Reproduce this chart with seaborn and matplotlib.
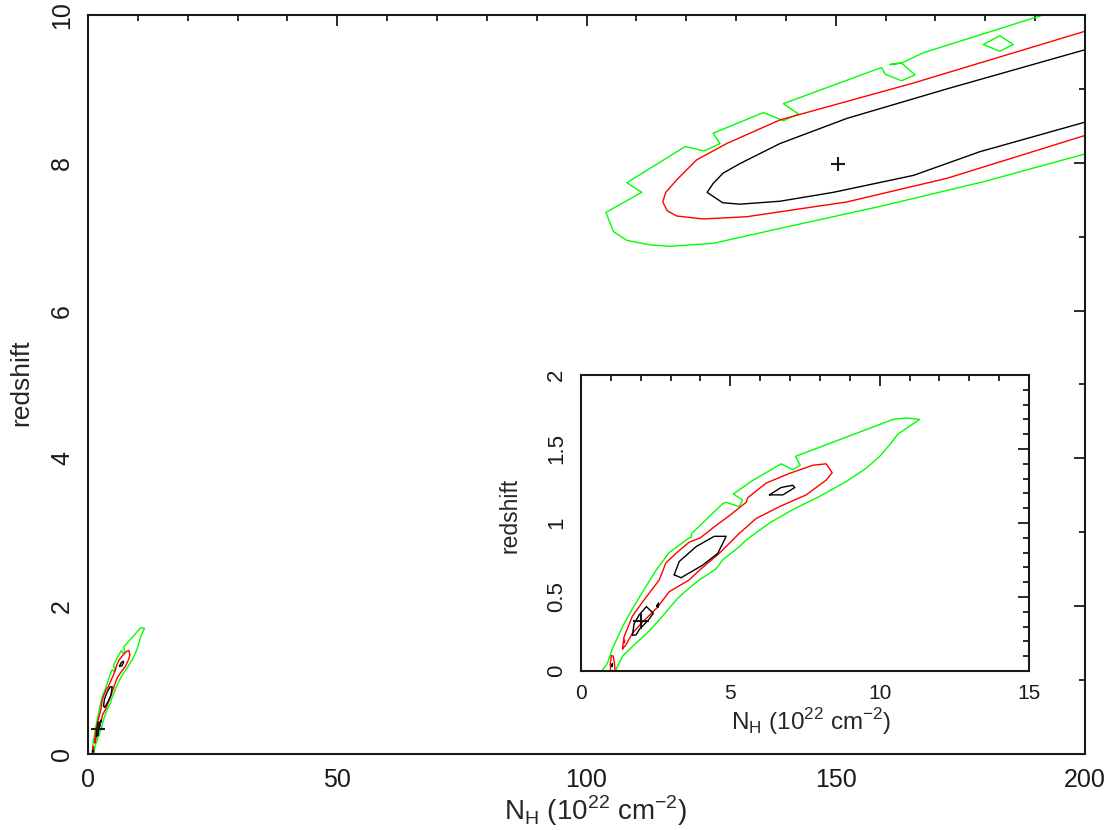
import matplotlib
matplotlib.use("Agg")
import matplotlib.pyplot as plt
from matplotlib.ticker import MultipleLocator, FuncFormatter
import seaborn as sns

# ---------------- data (N_H in 1e22 cm^-2, redshift) ----------------
# large solution (main panel, upper right)
big_green_nh = [191.6, 167.6, 163.2, 160.9, 163.2, 165.9, 163.2, 159.9, 159.2, 139.5, 142.5,
                139.5, 135.5, 125.4, 126.8, 123.6, 119.8, 108.1, 111.1, 103.9, 105.4, 108.1,
                112.7, 116.8, 125.4, 140.0, 158.9, 180.0, 200.0]
big_green_z = [10.0, 9.49, 9.35, 9.33, 9.35, 9.19, 9.11, 9.20, 9.29, 8.80, 8.66,
               8.57, 8.68, 8.40, 8.26, 8.16, 8.22, 7.73, 7.60, 7.33, 7.07, 6.95,
               6.89, 6.87, 6.91, 7.13, 7.41, 7.75, 8.12]
big_green2_nh = [179.6, 182.9, 185.6, 182.9, 179.6]
big_green2_z = [9.60, 9.72, 9.60, 9.51, 9.60]
big_red_nh = [200.0, 165.6, 138.8, 128.1, 122.1, 118.1, 115.9, 115.3, 116.2, 118.1, 123.4,
              132.1, 152.2, 172.3, 200.0]
big_red_z = [9.78, 9.08, 8.58, 8.26, 8.04, 7.77, 7.60, 7.47, 7.35, 7.28, 7.24,
             7.27, 7.47, 7.79, 8.37]
big_black_nh = [200.0, 172.3, 152.2, 138.8, 130.8, 127.4, 125.4, 124.2, 127.3, 130.8, 138.8,
                149.5, 165.6, 178.9, 200.0]
big_black_z = [9.53, 9.00, 8.60, 8.26, 7.99, 7.86, 7.72, 7.60, 7.46, 7.44, 7.48,
               7.60, 7.83, 8.15, 8.55]
big_best_nh = [150.4]
big_best_z = [7.98]

# small solution (bottom left of main panel, enlarged in the inset)
sm_green_nh = [0.69, 0.88, 1.05, 1.39, 1.72, 2.11, 2.51, 2.95, 3.29, 3.62, 3.68, 3.71, 4.74,
               4.86, 5.30, 5.41, 5.10, 5.69, 6.70, 7.09, 7.34, 7.18, 10.45, 10.90, 11.34,
               10.61, 10.34, 10.00, 9.55, 8.88, 7.99, 7.09, 6.31, 5.53, 5.30, 4.74, 4.52,
               3.96, 3.62, 3.23, 2.73, 2.28, 1.72, 1.39, 1.22, 1.16]
sm_green_z = [0.00, 0.05, 0.15, 0.30, 0.42, 0.55, 0.68, 0.80, 0.85, 0.90, 0.90, 0.93, 1.13,
              1.14, 1.11, 1.155, 1.196, 1.28, 1.40, 1.36, 1.39, 1.45, 1.70, 1.71, 1.70,
              1.60, 1.53, 1.45, 1.37, 1.28, 1.18, 1.09, 1.00, 0.885, 0.84, 0.75, 0.69,
              0.615, 0.56, 0.49, 0.37, 0.27, 0.165, 0.10, 0.03, 0.00]
sm_red_nh = [1.39, 1.44, 1.72, 2.11, 2.62, 2.84, 3.18, 3.62, 4.00, 4.50, 4.97, 5.53, 5.58,
             6.20, 6.98, 7.76, 8.21, 8.41, 8.21, 7.54, 6.64, 5.86, 5.30, 4.63, 3.96, 3.62,
             2.95, 2.56, 2.06, 1.72, 1.50, 1.39]
sm_red_z = [0.15, 0.23, 0.37, 0.48, 0.615, 0.73, 0.795, 0.87, 0.90, 0.98, 1.05, 1.14, 1.17,
            1.27, 1.335, 1.39, 1.40, 1.34, 1.29, 1.19, 1.11, 1.03, 0.93, 0.795, 0.68, 0.615,
            0.535, 0.43, 0.33, 0.255, 0.175, 0.15]
sm_red2_nh = [0.99, 0.98, 1.02, 1.08, 1.12, 1.14]
sm_red2_z = [0.00, 0.05, 0.105, 0.10, 0.05, 0.00]
sm_red3_nh = [1.43, 1.46, 1.45, 1.43]
sm_red3_z = [0.19, 0.21, 0.19, 0.19]
sm_black1_nh = [1.72, 1.78, 1.95, 2.19, 2.42, 2.26, 1.95, 1.84, 1.72]
sm_black1_z = [0.243, 0.32, 0.38, 0.435, 0.39, 0.345, 0.28, 0.243, 0.243]
sm_black2_nh = [3.12, 3.29, 3.85, 4.46, 4.86, 4.58, 4.07, 3.35, 3.12]
sm_black2_z = [0.65, 0.74, 0.84, 0.91, 0.91, 0.795, 0.715, 0.63, 0.65]
sm_black3_nh = [6.31, 6.70, 7.09, 7.16, 6.76, 6.33, 6.31]
sm_black3_z = [1.19, 1.24, 1.255, 1.24, 1.19, 1.19, 1.19]
sm_black4_nh = [2.53, 2.60, 2.58, 2.53]
sm_black4_z = [0.44, 0.46, 0.43, 0.44]
sm_black5_nh = [1.03, 1.05, 1.04, 1.03]
sm_black5_z = [0.04, 0.05, 0.03, 0.04]
sm_best_nh = [2.0]
sm_best_z = [0.34]

main_xticks = [0, 50, 100, 150, 200]
main_yticks = [0, 2, 4, 6, 8, 10]
inset_xticks = [0, 5, 10, 15]
inset_yticks = [0, 0.5, 1, 1.5, 2]
xlabel = r"N$_{\mathregular{H}}$ (10$^{\mathregular{22}}$ cm$^{\mathregular{-2}}$)"
ylabel = "redshift"

GREEN = "#00ff00"
RED = "#ff0000"
BLACK = "#000000"

sns.set_theme(style="white")
plt.rcParams["font.family"] = ["Liberation Sans", "DejaVu Sans"]
plt.rcParams["mathtext.fontset"] = "custom"
plt.rcParams["mathtext.rm"] = "Liberation Sans"
plt.rcParams["axes.unicode_minus"] = True

fig = plt.figure(figsize=(11.09, 8.30), dpi=100)
ax = fig.add_axes([88 / 1109, (830 - 754) / 830, 997 / 1109, 739 / 830])
axi = fig.add_axes([581 / 1109, (830 - 671) / 830, 448 / 1109, 296 / 830])

small = [(sm_green_nh, sm_green_z, GREEN), (sm_red_nh, sm_red_z, RED),
         (sm_red2_nh, sm_red2_z, RED), (sm_red3_nh, sm_red3_z, RED),
         (sm_black1_nh, sm_black1_z, BLACK), (sm_black2_nh, sm_black2_z, BLACK),
         (sm_black3_nh, sm_black3_z, BLACK), (sm_black4_nh, sm_black4_z, BLACK),
         (sm_black5_nh, sm_black5_z, BLACK)]
big = [(big_green_nh, big_green_z, GREEN), (big_green2_nh, big_green2_z, GREEN),
       (big_red_nh, big_red_z, RED), (big_black_nh, big_black_z, BLACK)]


def draw(a, xs, ys, c):
    sns.lineplot(x=xs, y=ys, sort=False, estimator=None, color=c, lw=1.0, ax=a)


for xs, ys, c in big + small:
    draw(ax, xs, ys, c)
for xs, ys, c in small:
    draw(axi, xs, ys, c)

ax.plot(big_best_nh, big_best_z, marker="+", ms=10, mew=1.5, color="k", ls="none")
ax.plot(sm_best_nh, sm_best_z, marker="+", ms=10, mew=1.5, color="k", ls="none")
axi.plot(sm_best_nh, sm_best_z, marker="+", ms=11, mew=1.5, color="k", ls="none")

fmt = FuncFormatter(lambda v, p: f"{v:g}")


def style(a, xt, yt, xmin, ymin, xlim, ylim, fsx, fsy, padx, pady):
    a.set_xlim(*xlim)
    a.set_ylim(*ylim)
    a.set_xticks(xt)
    a.set_yticks(yt)
    a.xaxis.set_minor_locator(MultipleLocator(xmin))
    a.yaxis.set_minor_locator(MultipleLocator(ymin))
    a.xaxis.set_major_formatter(fmt)
    a.yaxis.set_major_formatter(fmt)
    a.tick_params(which="both", direction="in", top=True, right=True, colors="k")
    a.tick_params(axis="x", labelsize=fsx, pad=padx)
    a.tick_params(axis="y", labelsize=fsy, pad=pady)
    a.tick_params(which="major", length=8, width=1.3)
    a.tick_params(which="minor", length=4.5, width=1.3)
    for s in a.spines.values():
        s.set_linewidth(1.5)
        s.set_color("k")
    for t in a.get_yticklabels():
        t.set_rotation(90)
        t.set_va("center")
    a.set_facecolor("white")


style(ax, main_xticks, main_yticks, 10, 1, (0, 200), (0, 10), 18, 18, 10, 10)
style(axi, inset_xticks, inset_yticks, 1, 0.1, (0, 15), (0, 2), 15, 16, 9.5, 10)

ax.set_xlabel(xlabel, fontsize=20, va="baseline")
ax.set_ylabel(ylabel, fontsize=19, va="baseline")
ax.xaxis.set_label_coords(0.5095, -0.0893)
ax.yaxis.set_label_coords(-0.0602, 0.502)
axi.set_xlabel(xlabel, fontsize=17.5, va="baseline")
axi.set_ylabel(ylabel, fontsize=16.5, va="baseline")
axi.xaxis.set_label_coords(0.513, -0.199)
axi.yaxis.set_label_coords(-0.143, 0.527)

fig.savefig("out.png", dpi=100, facecolor="white")
